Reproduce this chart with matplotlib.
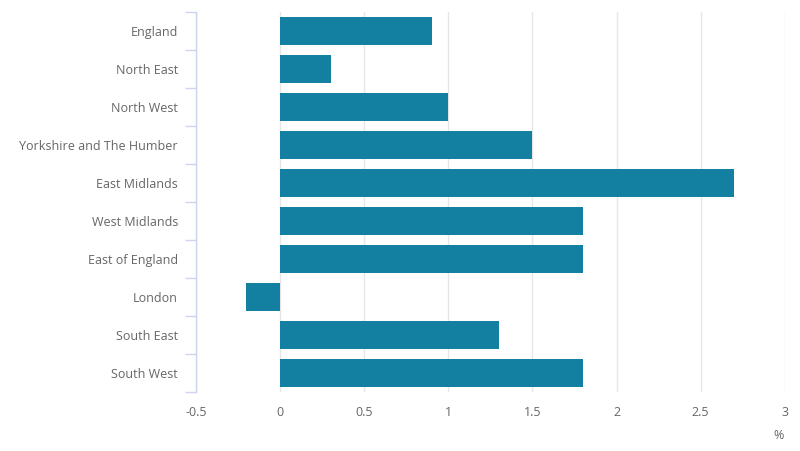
import matplotlib
matplotlib.use("Agg")
import matplotlib.pyplot as plt
import numpy as np

categories = ["England", "North East", "North West", "Yorkshire and The Humber",
              "East Midlands", "West Midlands", "East of England", "London",
              "South East", "South West"]
values = [0.9, 0.3, 1.0, 1.5, 2.7, 1.8, 1.8, -0.2, 1.3, 1.8]
xticks = [-0.5, 0, 0.5, 1, 1.5, 2, 2.5, 3]
xticklabels = ["-0.5", "0", "0.5", "1", "1.5", "2", "2.5", "3"]

plt.rcParams['font.family'] = ['Open Sans', 'DejaVu Sans']
text_color = "#666666"

fig = plt.figure(figsize=(8, 4.51), dpi=100)
ax = fig.add_axes([0.245, 0.131, 0.736, 0.842])

y = np.arange(len(categories))
ax.barh(y, values, height=0.74, color="#1380A1", zorder=3)

ax.set_xlim(-0.5, 3)
ax.set_ylim(len(categories) - 0.5, -0.5)
ax.set_xticks(xticks)
ax.set_xticklabels(xticklabels, color=text_color, fontsize=9)
ax.set_yticks(y)
ax.set_yticklabels(categories, color=text_color, fontsize=9)
ax.set_yticks(np.arange(-0.5, len(categories), 1), minor=True)
ax.tick_params(axis='y', which='major', length=0, pad=13)
ax.tick_params(axis='y', which='minor', length=8, color="#ccd6eb", width=1)
ax.tick_params(axis='x', length=0, pad=10)

ax.grid(axis='x', color="#e6e6e6", linewidth=1, zorder=0)
for s in ["top", "right", "bottom"]:
    ax.spines[s].set_visible(False)
ax.spines["left"].set_color("#ccd6eb")
ax.spines["left"].set_linewidth(1)

fig.text(0.973, 0.035, "%", color=text_color, fontsize=9, ha='center', va='center')

fig.savefig("out.png", dpi=100)
